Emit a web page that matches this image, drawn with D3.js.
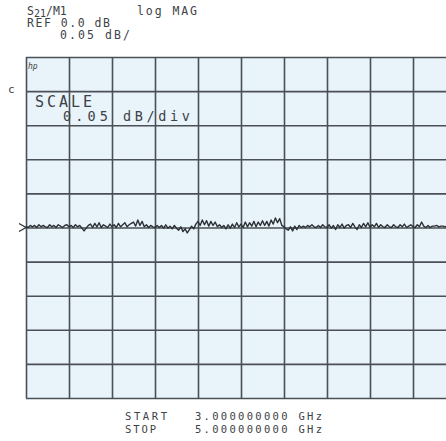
<!DOCTYPE html>
<html>
<head>
<meta charset="utf-8">
<script src="https://cdn.jsdelivr.net/npm/d3@7"></script>
<style>
  body { margin: 0; background: #fff; }
  text { font-family: "DejaVu Sans Mono", "Liberation Mono", monospace; fill: #3d4246; }
</style>
</head>
<body>
<svg width="446" height="441"></svg>
<script>
const svg = d3.select('svg');
const width = +svg.attr('width');
const height = +svg.attr('height');

// sweep
const startGHz = 3.0;
const stopGHz = 5.0;
const xTicks = [3.0, 3.2, 3.4, 3.6, 3.8, 4.0, 4.2, 4.4, 4.6, 4.8, 5.0];
const yTicks = [-0.25, -0.20, -0.15, -0.10, -0.05, 0.0, 0.05, 0.10, 0.15, 0.20, 0.25];

// S21 log MAG trace, dB (201 points)
const s21dB = [
  0.002,0.000,0.003,0.001,0.003,0.000,0.004,0.001,0.003,0.001,
  0.000,0.004,0.001,0.003,0.000,0.004,0.002,0.000,0.003,0.004,
  0.001,0.003,0.000,0.004,0.001,0.003,-0.001,-0.005,-0.001,0.003,
  0.005,0.000,0.006,0.001,0.007,0.000,0.004,0.002,0.000,0.005,
  0.001,0.004,0.000,0.006,0.001,0.004,0.007,0.001,0.004,0.006,
  0.008,0.002,0.011,0.003,0.009,0.001,0.004,0.000,0.003,0.001,
  0.000,0.003,0.000,0.003,-0.001,0.004,-0.001,0.002,-0.002,0.003,
  -0.001,-0.004,0.001,-0.006,-0.002,-0.008,-0.003,0.002,-0.002,0.005,
  0.009,0.003,0.011,0.004,0.010,0.002,0.009,0.003,0.008,0.001,
  0.004,0.000,0.003,-0.002,0.004,-0.001,0.005,0.000,0.007,0.001,
  0.005,0.000,0.008,0.001,0.007,0.002,0.009,0.001,0.008,0.003,
  0.010,0.003,0.009,0.002,0.011,0.005,0.014,0.007,0.013,0.003,
  0.001,-0.002,-0.004,0.001,-0.005,0.002,-0.003,0.003,0.000,0.002,
  0.000,0.003,0.001,0.004,0.001,0.000,0.003,0.000,0.004,0.001,
  0.000,0.004,-0.001,0.003,-0.003,0.004,0.000,0.005,-0.001,0.003,
  0.004,0.000,0.006,0.001,-0.003,0.004,0.000,0.006,0.001,0.007,
  0.000,0.004,0.001,0.006,0.000,0.004,0.001,0.000,0.004,0.001,
  0.000,0.004,0.001,0.000,0.004,0.001,0.005,0.000,0.002,0.004,
  0.001,0.000,0.004,0.001,0.008,0.002,0.000,0.003,0.000,0.002,
  0.002,0.003,0.001,0.002,0.002,0.001,0.002,0.002,0.002,0.002,
  0.002
];

const headerLines = ['REF 0.0 dB', '0.05 dB/'];

const margin = {top: 57, left: 26};
const innerWidth = 430;
const innerHeight = 341;

const xScale = d3.scaleLinear().domain([startGHz, stopGHz]).range([0, innerWidth]);
const yScale = d3.scaleLinear().domain([-0.25, 0.25]).range([innerHeight, 0]);

const step = (stopGHz - startGHz) / (s21dB.length - 1);
const data = s21dB.map((v, i) => ({f: startGHz + i * step, v}));

const g = svg.append('g')
  .attr('transform', `translate(${margin.left},${margin.top})`);

g.append('rect')
  .attr('width', innerWidth).attr('height', innerHeight)
  .attr('fill', '#e9f3fa');

const gridX = g.append('g')
  .attr('transform', `translate(0,${innerHeight})`)
  .call(d3.axisBottom(xScale).tickValues(xTicks).tickSize(-innerHeight).tickFormat(''));
const gridY = g.append('g')
  .call(d3.axisLeft(yScale).tickValues(yTicks).tickSize(-innerWidth).tickFormat(''));
[gridX, gridY].forEach(a => {
  a.select('.domain').remove();
  a.selectAll('line').attr('stroke', '#4a5055').attr('stroke-width', 1.6);
});

g.append('path')
  .datum(data)
  .attr('fill', 'none')
  .attr('stroke', '#2c3135')
  .attr('stroke-width', 1.4)
  .attr('stroke-linejoin', 'round')
  .attr('d', d3.line().x(d => xScale(d.f)).y(d => yScale(d.v)));

// reference marker
g.append('path')
  .attr('d', `M-7,${yScale(0) - 4} L0,${yScale(0)} L-7,${yScale(0) + 4}`)
  .attr('fill', 'none').attr('stroke', '#2c3135').attr('stroke-width', 1.3);

// header
const s = svg.append('text').attr('x', 27).attr('y', 15).attr('font-size', 11.5);
s.append('tspan').text('S');
s.append('tspan').attr('dy', 2).attr('font-size', 10).text('21');
s.append('tspan').attr('dy', -2).text('/M1');
svg.append('text').attr('x', 137).attr('y', 15).attr('font-size', 11.5)
  .attr('textLength', 60).text('log MAG');
svg.append('text').attr('x', 27).attr('y', 27).attr('font-size', 11.5)
  .attr('textLength', 83).text(headerLines[0]);
svg.append('text').attr('x', 60).attr('y', 39).attr('font-size', 11.5)
  .attr('textLength', 70).text(headerLines[1]);

svg.append('text').attr('x', 8).attr('y', 93).attr('font-size', 11).text('c');
svg.append('text').attr('x', 28).attr('y', 69).attr('font-size', 8)
  .attr('font-style', 'italic').text('hp');

svg.append('text').attr('x', 35).attr('y', 107).attr('font-size', 15)
  .attr('textLength', 57).text('SCALE');
svg.append('text').attr('x', 63).attr('y', 121).attr('font-size', 13.5)
  .attr('textLength', 45).text('0.05');
svg.append('text').attr('x', 123).attr('y', 121).attr('font-size', 13.5)
  .attr('textLength', 67).text('dB/div');

// footer
svg.append('text').attr('x', 125).attr('y', 420).attr('font-size', 10.5)
  .attr('textLength', 42).text('START');
svg.append('text').attr('x', 195).attr('y', 420).attr('font-size', 10.5)
  .attr('textLength', 127).text('3.000000000 GHz');
svg.append('text').attr('x', 125).attr('y', 433).attr('font-size', 10.5)
  .attr('textLength', 31).text('STOP');
svg.append('text').attr('x', 195).attr('y', 433).attr('font-size', 10.5)
  .attr('textLength', 127).text('5.000000000 GHz');
</script>
</body>
</html>
